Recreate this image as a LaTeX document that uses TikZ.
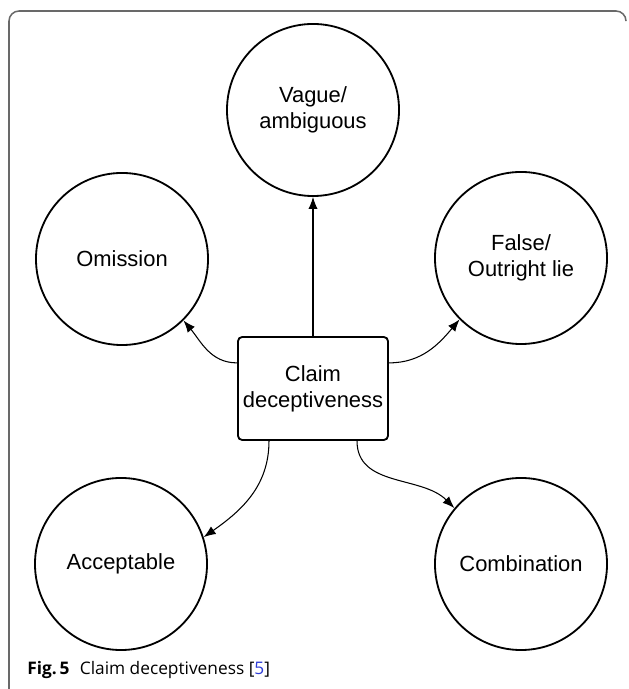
\documentclass[tikz,border=0pt]{standalone}
\usepackage{fontspec}
\setmainfont{Liberation Sans}
\newfontfamily\capfont{Open Sans}
\usetikzlibrary{arrows.meta}
\definecolor{framegray}{RGB}{105,105,105}
\definecolor{citeblue}{RGB}{45,60,215}

\begin{document}
\begin{tikzpicture}[x=0.025cm,y=0.025cm]
    \tikzset{catnode/.style={circle,draw=black,line width=1.3pt,minimum size=4.3cm,inner sep=0pt,align=center,font=\fontsize{15.6}{18.5}\selectfont},
             rootbox/.style={draw=black,line width=1.3pt,rounded corners=3pt,minimum width=3.75cm,minimum height=2.575cm,align=center,font=\fontsize{15.6}{18.5}\selectfont},
             link/.style={-{Latex[length=3mm,width=2.3mm]},line width=0.75pt}}

    \useasboundingbox (0,0) rectangle (629,689);
    \clip (0,0) rectangle (629,689);

    % frame
    \draw[framegray,line width=1.1pt,rounded corners=0.25cm] (626,668) -- (626,678) -- (9,678) -- (9,-10) -- (40,-10);

    \node[rootbox] (claim) at (313,300.5) {Claim\\deceptiveness};

    \node[catnode] (vague) at (313,579) {Vague/\\ambiguous};
    \node[catnode] (omission) at (122,430) {Omission};
    \node[catnode] (falselie) at (521,431) {False/\\Outright lie};
    \node[catnode] (acceptable) at (121,125) {Acceptable};
    \node[catnode] (combination) at (521,125) {Combination};

    \draw[link] (claim.north) -- (vague.south);
    \draw[link] ([yshift=0.64cm]claim.west) to[out=180,in=-50] (omission.-45);
    \draw[link] ([yshift=0.64cm]claim.east) to[out=0,in=230] (falselie.225);
    \draw[link] ([xshift=-1.1cm]claim.south) to[out=-90,in=35] (acceptable.18);
    \draw[link] ([xshift=1.1cm]claim.south) to[out=-90,in=135] (combination.140);

    % caption
    \node[anchor=base west,inner sep=0pt,font=\capfont\fontsize{12.3}{14}\selectfont] (caption) at (27,15)
        {\textbf{Fig.\,5}\hspace{0.6em}Claim deceptiveness [\textcolor{citeblue}{5}]};
\end{tikzpicture}
\end{document}
